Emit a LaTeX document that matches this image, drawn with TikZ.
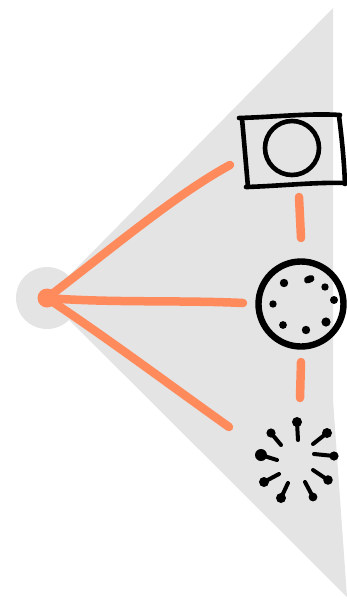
\documentclass[tikz,border=0pt]{standalone}
\definecolor{conegray}{HTML}{E4E4E4}
\definecolor{coral}{HTML}{FF8A5B}
\tikzset{
  ray/.style={coral, line width=8.5pt, line cap=round, line join=round},
  pen/.style={black, line width=4.6pt, line cap=round, line join=round},
  hubdot/.style={circle, fill=coral, inner sep=0pt, minimum size=19pt},
  pin/.style={black, line width=4pt, line cap=round},
}
\begin{document}
\begin{tikzpicture}[x=1pt, y=-1pt]
    \useasboundingbox (0,0) rectangle (347,603);

    % 灰色视锥
    \fill[conegray] (47,298) -- (333,8) -- (333,400) -- (347,597) -- cycle;
    \fill[conegray] (47,298) circle (31);

    % 顶点与端点
    \node[hubdot] (hub) at (47,298) {};
    \coordinate (upper) at (230,165);
    \coordinate (middle) at (243,303);
    \coordinate (lower) at (229,427);

    % 三条射线
    \draw[ray] (hub.center) .. controls (110,250) and (175,195) .. (upper);
    \draw[ray] (hub.center) .. controls (110,303) and (180,300) .. (middle);
    \draw[ray] (hub.center) .. controls (110,340) and (170,385) .. (lower);

    % 虚线段
    \coordinate (gapa) at (299,197);
    \coordinate (gapb) at (301,238);
    \coordinate (gapc) at (301,362);
    \coordinate (gapd) at (300,398);
    \draw[ray] (gapa) -- (gapb);
    \draw[ray] (gapc) -- (gapd);

    % 手绘方框
    \draw[pen] (239,118) .. controls (275,117) and (310,113) .. (340,115);
    \draw[pen] (242,119) .. controls (244,140) and (246,165) .. (248,187);
    \draw[pen] (246,187) .. controls (280,186) and (315,182) .. (345,183);
    \draw[pen] (339,116) .. controls (342,140) and (344,160) .. (345,184);
    \draw[pen] (292,148) circle (27);

    % 粗圆与点
    \draw[pen, line width=6.4pt] (301,304) circle (42.5);
    \foreach \px/\py/\pr in {284/283/4.2, 273/304/3.7, 283/325/3.9, 306/330/4.2,
                             326/322/4.6, 334/300/4, 325/287/3.7} {
        \fill[black] (\px,\py) circle (\pr);
    }
    \draw[black, line width=7pt, line cap=round] (307.5,280) -- (311,278.5);

    % 放射短线
    \foreach \ax/\ay/\bx/\by/\pr in {297/422/298/440/5, 271/433/281/445/4.6,
                                     327/433/313/444/5, 261/455/277/460/6,
                                     334/456/314/454/4.6, 328/480/313/470/4.8,
                                     264/482/279/474/5, 281/498/288/483/5,
                                     313/497/305/482/4.4} {
        \draw[pin] (\ax,\ay) -- (\bx,\by);
        \fill[black] (\ax,\ay) circle (\pr);
    }
\end{tikzpicture}
\end{document}
